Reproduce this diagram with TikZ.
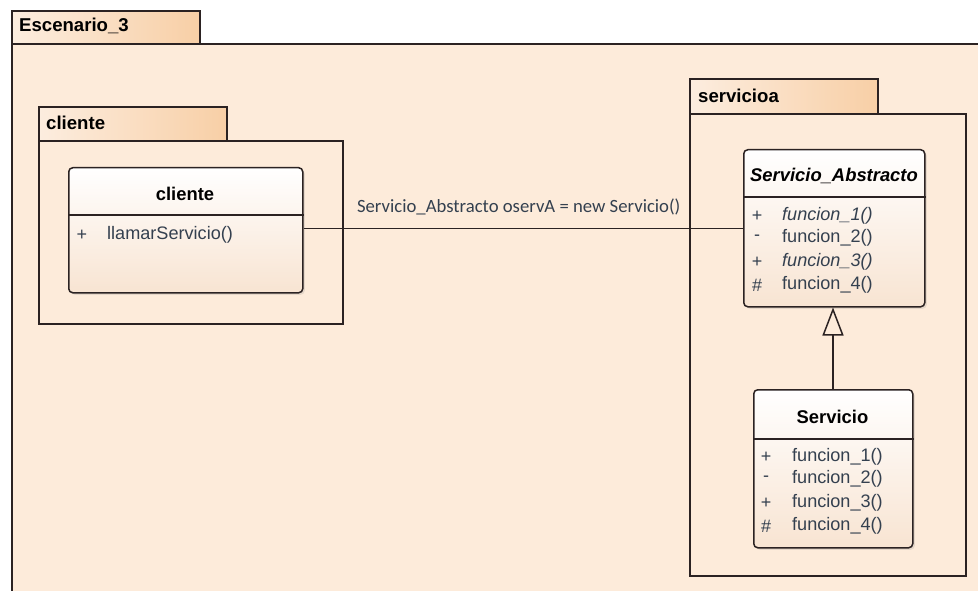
\documentclass[tikz,border=0pt]{standalone}
\usepackage{fontspec}
\setmainfont{Liberation Sans}
\newfontfamily\lblfont{Carlito}
\usetikzlibrary{arrows.meta,shadows,calc}
\definecolor{pkgbody}{HTML}{FDEBDA}
\definecolor{tabL}{HTML}{FCEDDF}
\definecolor{tabR}{HTML}{F8CFA6}
\definecolor{edge}{HTML}{2B2222}
\definecolor{membertext}{HTML}{34404F}
\definecolor{clstop}{HTML}{FFFFFF}
\definecolor{clsbottom}{HTML}{F8E4D2}
\begin{document}
\begin{tikzpicture}[x=1pt,y=-1pt,
  pkgtab/.style={draw=edge, line width=1.6pt, left color=tabL, right color=tabR,
    anchor=north west, inner sep=0pt},
  pkgbody/.style={draw=edge, line width=1.6pt, fill=pkgbody, anchor=north west, inner sep=0pt},
  pkgname/.style={anchor=west, inner sep=0pt, font=\fontsize{18.6}{22}\selectfont\bfseries, text=black},
  clsbox/.style={draw=edge, line width=1.5pt, rounded corners=4pt, top color=clstop,
    bottom color=clsbottom, anchor=north west, inner sep=0pt,
    drop shadow={opacity=0.18, shadow xshift=2pt, shadow yshift=-2pt}},
  clsname/.style={inner sep=0pt, font=\fontsize{18.4}{22}\selectfont\bfseries, text=black},
  vis/.style={inner sep=0pt, font=\fontsize{18}{22}\selectfont, text=membertext},
  member/.style={anchor=west, inner sep=0pt, font=\fontsize{18.1}{22}\selectfont, text=membertext},
  divider/.style={draw=edge, line width=1.5pt},
  assoc/.style={draw=edge, line width=1.5pt},
  generalization/.style={draw=edge, line width=1.5pt,
    -{Triangle[open, width=21pt, length=28pt, line width=1.5pt]}}
]
\useasboundingbox (0,0) rectangle (978,591);
\clip (0,0) rectangle (978,591);
\fill[white] (0,0) rectangle (978,591);

% package Escenario_3 (runs past the right and bottom edges)
\node[pkgbody, minimum width=1000pt, minimum height=600pt] (escbody) at (11,43) {};
\node[pkgtab, minimum width=188pt, minimum height=33pt] (esctab) at (11,10) {};
\node[pkgname] (escname) at (19,26) {Escenario\_3};

% package cliente
\node[pkgbody, minimum width=304pt, minimum height=183pt] (clibody) at (38,140) {};
\node[pkgtab, minimum width=188pt, minimum height=34pt] (clitab) at (38,106) {};
\node[pkgname] (cliname) at (46,123) {cliente};

% package servicioa
\node[pkgbody, minimum width=276pt, minimum height=462pt] (srvbody) at (689,113) {};
\node[pkgtab, minimum width=188pt, minimum height=35pt] (srvtab) at (689,78) {};
\node[pkgname] (srvname) at (698,96) {servicioa};

% class cliente
\node[clsbox, minimum width=234pt, minimum height=125pt] (cli) at (68,167) {};
\draw[divider] (cli.west |- 0,215) -- (cli.east |- 0,215);
\node[clsname] (clititle) at (185,194) {cliente};
\node[vis] (cliv1) at (82,235) {+};
\node[member] (clim1) at (107,235) {llamarServicio()};

% abstract class Servicio_Abstracto
\node[clsbox, minimum width=181pt, minimum height=157pt] (abs) at (743,149) {};
\draw[divider] (abs.west |- 0,197) -- (abs.east |- 0,197);
\node[clsname] (abstitle) at (834,176) {\itshape Servicio\_Abstracto};
\node[vis] (absv1) at (757,216) {+};
\node[vis] (absv2) at (757,238) {-};
\node[vis] (absv3) at (757,262) {+};
\node[vis] (absv4) at (757,285) {\#};
\node[member] (absm1) at (782,216) {\itshape funcion\_1()};
\node[member] (absm2) at (782,238) {funcion\_2()};
\node[member] (absm3) at (782,262) {\itshape funcion\_3()};
\node[member] (absm4) at (782,285) {funcion\_4()};

% class Servicio
\node[clsbox, minimum width=159pt, minimum height=158pt] (srv) at (753,389) {};
\draw[divider] (srv.west |- 0,439) -- (srv.east |- 0,439);
\node[clsname] (srvtitle) at (832.5,417) {Servicio};
\node[vis] (srvv1) at (766,457) {+};
\node[vis] (srvv2) at (766,479) {-};
\node[vis] (srvv3) at (766,503) {+};
\node[vis] (srvv4) at (766,526) {\#};
\node[member] (srvm1) at (792,457) {funcion\_1()};
\node[member] (srvm2) at (792,479) {funcion\_2()};
\node[member] (srvm3) at (792,503) {funcion\_3()};
\node[member] (srvm4) at (792,526) {funcion\_4()};

% association with its label
\draw[assoc] (abs.west -| cli.east) -- (abs.west)
  node[midway, xshift=-4.5pt, yshift=21pt, inner sep=0pt,
       font=\lblfont\fontsize{18.7}{22}\selectfont, text=membertext]
  (assoclabel) {Servicio\_Abstracto oservA = new Servicio()};

% generalization
\draw[generalization] (srv.north -| 833,0) -- (abs.south -| 833,0);
\end{tikzpicture}
\end{document}
